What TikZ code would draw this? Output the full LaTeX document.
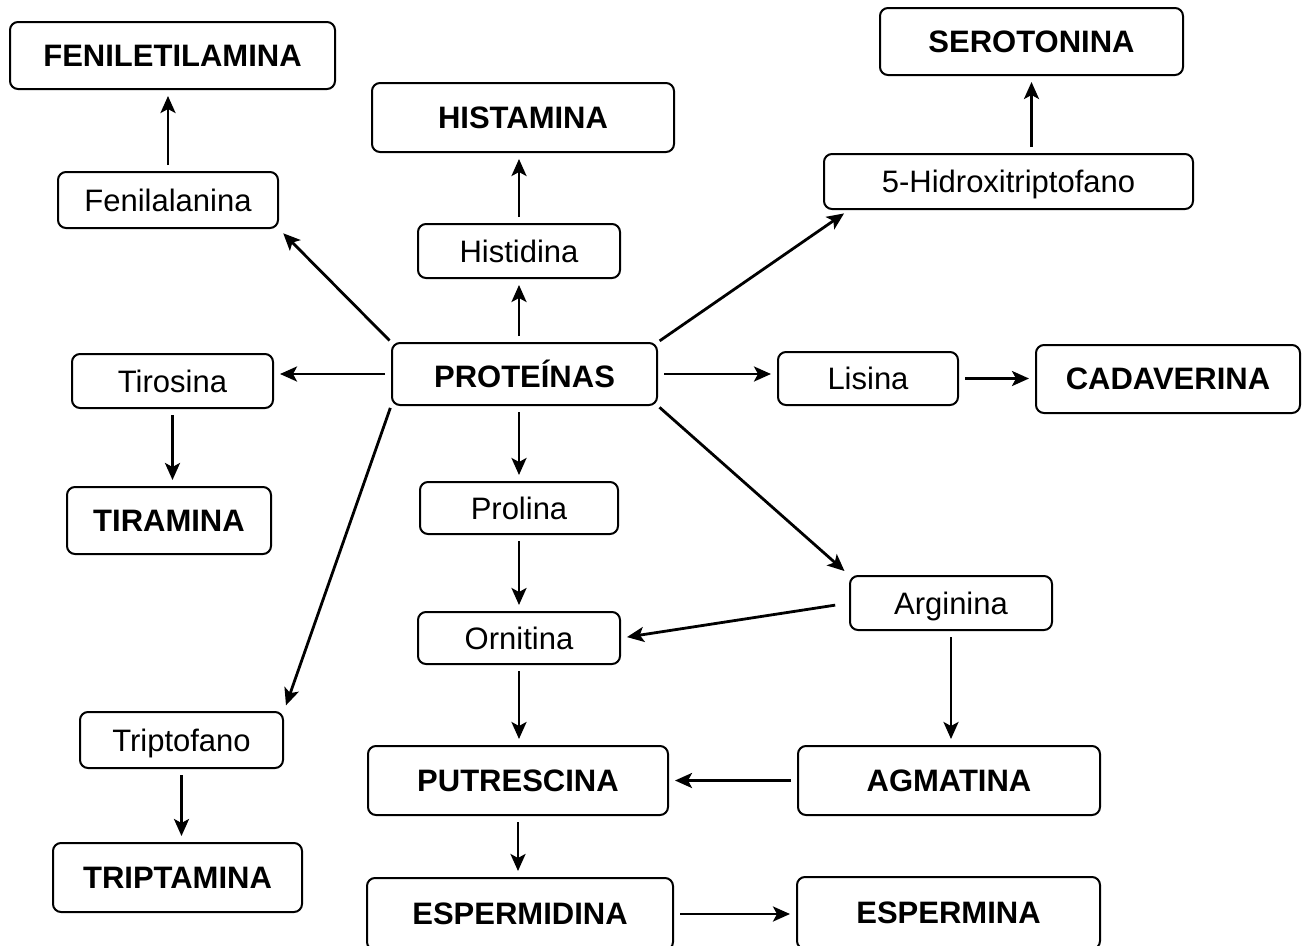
\documentclass[tikz,border=0pt]{standalone}
\usepackage{fontspec}
\setmainfont{Liberation Sans}
\usetikzlibrary{shapes, arrows.meta, positioning}

\tikzset{
    borda/.style={draw, line width=2pt, rounded corners=8pt, inner sep=0pt},
    caixa/.style={borda, text depth=0pt, font=\fontsize{31}{37}\selectfont},
    amina/.style={borda, font=\fontsize{31}{37}\selectfont\bfseries},
    seta/.style={line width=2.8pt, -{Stealth[length=17pt, width=15pt, inset=4pt]},
        shorten <=6pt, shorten >=6pt}
}

\begin{document}
\begin{tikzpicture}[x=1pt, y=-1pt]
        \useasboundingbox (0,0) rectangle (1306,945);

        % centro
        \node[amina, minimum width=265pt, minimum height=62pt] (proteinas) at (524.5,374) {PROTEÍNAS};

        % aminoacidos
        \node[caixa, minimum width=220pt, minimum height=56pt] (fenilalanina) at (168,200) {Fenilalanina};
        \node[caixa, minimum width=202pt, minimum height=54pt] (histidina) at (519,251) {Histidina};
        \node[caixa, minimum width=369pt, minimum height=55pt] (hidroxi) at (1008.5,181.5) {5-Hidroxitriptofano};
        \node[caixa, minimum width=201pt, minimum height=54pt] (tirosina) at (172.5,381) {Tirosina};
        \node[caixa, minimum width=180pt, minimum height=53pt] (lisina) at (868,378.5) {Lisina};
        \node[caixa, minimum width=198pt, minimum height=52pt] (prolina) at (519,508) {Prolina};
        \node[caixa, minimum width=202pt, minimum height=54pt] (arginina) at (951,603) {Arginina};
        \node[caixa, minimum width=202pt, minimum height=52pt] (ornitina) at (519,638) {Ornitina};
        \node[caixa, minimum width=203pt, minimum height=56pt] (triptofano) at (181.5,740) {Triptofano};

        % aminas
        \node[amina, minimum width=325pt, minimum height=67pt] (feniletilamina) at (172.5,55.5) {FENILETILAMINA};
        \node[amina, minimum width=302pt, minimum height=69pt] (histamina) at (523,117.5) {HISTAMINA};
        \node[amina, minimum width=303pt, minimum height=67pt] (serotonina) at (1031.5,41.5) {SEROTONINA};
        \node[amina, minimum width=264pt, minimum height=68pt] (cadaverina) at (1168,379) {CADAVERINA};
        \node[amina, minimum width=204pt, minimum height=67pt] (tiramina) at (169,520.5) {TIRAMINA};
        \node[amina, minimum width=300pt, minimum height=69pt] (putrescina) at (518,780.5) {PUTRESCINA};
        \node[amina, minimum width=302pt, minimum height=69pt] (agmatina) at (949,780.5) {AGMATINA};
        \node[amina, minimum width=249pt, minimum height=69pt] (triptamina) at (177.5,877.5) {TRIPTAMINA};
        \node[amina, minimum width=306pt, minimum height=72pt] (espermidina) at (520,914) {ESPERMIDINA};
        \node[amina, minimum width=303pt, minimum height=72pt] (espermina) at (948.5,913) {ESPERMINA};

        % setas a partir das proteinas
        \draw[seta, shorten <=2pt] (proteinas.north west) -- (fenilalanina.south east);
        \draw[seta] (histidina.south |- proteinas.north) -- (histidina.south);
        \draw[seta, shorten <=2pt] (proteinas.north east) -- ([xshift=26pt]hidroxi.south west);
        \draw[seta] (proteinas.west) -- (proteinas.west -| tirosina.east);
        \draw[seta] (proteinas.east) -- (proteinas.east -| lisina.west);
        \draw[seta] (prolina.north |- proteinas.south) -- (prolina.north);
        \draw[seta, shorten <=2pt] (proteinas.south east) -- (arginina.north west);
        \draw[seta, shorten <=2pt] (proteinas.south west) -- (triptofano.north east);

        % setas para as aminas
        \draw[seta] (fenilalanina.north) -- (fenilalanina.north |- feniletilamina.south);
        \draw[seta] (histidina.north) -- (histidina.north |- histamina.south);
        \draw[seta] (serotonina.south |- hidroxi.north) -- (serotonina.south);
        \draw[seta] (tirosina.south) -- (tirosina.south |- tiramina.north);
        \draw[seta] (lisina.east) -- (lisina.east -| cadaverina.west);
        \draw[seta] (prolina.south) -- (prolina.south |- ornitina.north);
        \draw[seta, shorten <=14pt] (arginina.west) -- (ornitina.east);
        \draw[seta] (arginina.south) -- (arginina.south |- agmatina.north);
        \draw[seta] (ornitina.south) -- (ornitina.south |- putrescina.north);
        \draw[seta] (agmatina.west) -- (agmatina.west -| putrescina.east);
        \draw[seta] (putrescina.south) -- (putrescina.south |- espermidina.north);
        \draw[seta] (triptofano.south) -- (triptofano.south |- triptamina.north);
        \draw[seta] (espermidina.east) -- (espermidina.east -| espermina.west);

    \end{tikzpicture}
\end{document}
